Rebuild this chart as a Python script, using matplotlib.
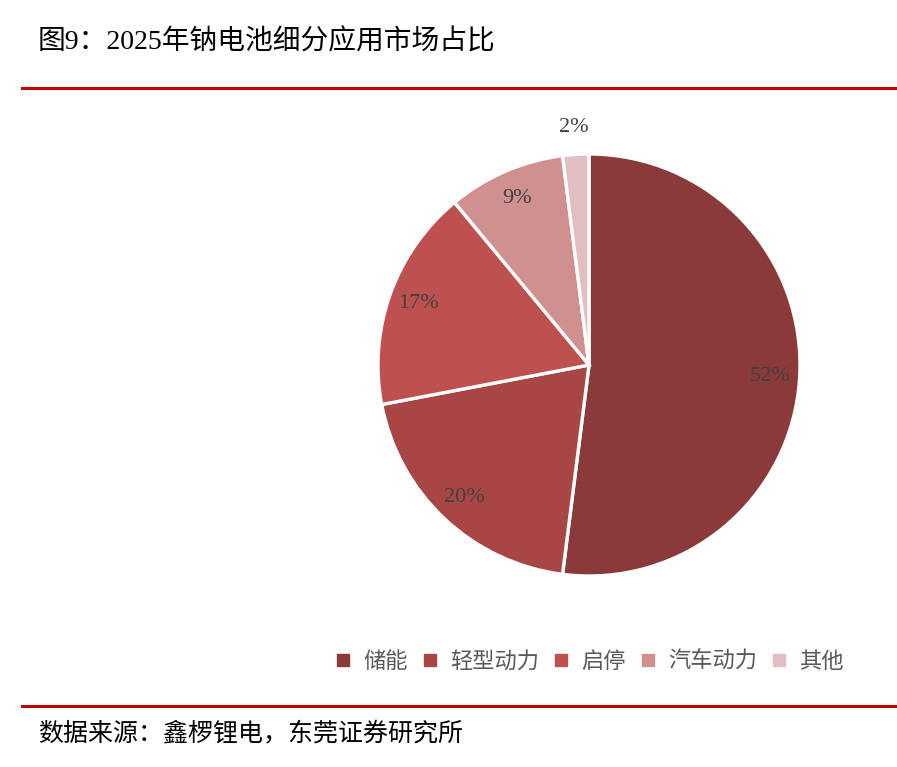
import matplotlib
matplotlib.use("Agg")
import matplotlib.pyplot as plt
from matplotlib.lines import Line2D
import numpy as np

title = "图9：2025年钠电池细分应用市场占比"
source = "数据来源：鑫椤锂电，东莞证券研究所"
categories = ["储能", "轻型动力", "启停", "汽车动力", "其他"]
values = [52, 20, 17, 9, 2]
colors = ["#8B3A3A", "#A84646", "#BE5050", "#D09090", "#E3BEC0"]

W, H = 897, 767
fig = plt.figure(figsize=(W / 100, H / 100), dpi=100)
fig.patch.set_facecolor("white")

# title
fig.text(38 / W, 1 - 42 / H, title, fontsize=20, color="black",
         family=["Liberation Serif", "Noto Sans CJK SC"], va="center", ha="left")
# red rules
fig.add_artist(Line2D([22 / W, 1], [1 - 88 / H, 1 - 88 / H], color="#C00000", lw=2.2))
fig.add_artist(Line2D([22 / W, 1], [1 - 706 / H, 1 - 706 / H], color="#C00000", lw=2.2))
# source
fig.text(38 / W, 1 - 733 / H, source, fontsize=18, color="black", weight="medium",
         family=["Noto Sans CJK SC", "DejaVu Sans"], va="center", ha="left")

# pie axes
cx, cy, r = 589, 365, 211
lim = 1.25
side = 2 * lim * r
ax = fig.add_axes([(cx - side / 2) / W, (H - cy - side / 2) / H, side / W, side / H])
wedges, texts, autotexts = ax.pie(
    values, colors=colors, startangle=90, counterclock=False,
    autopct=lambda p: f"{p:.0f}%", pctdistance=0.86,
    wedgeprops=dict(edgecolor="white", linewidth=2.4),
    textprops=dict(fontsize=16, color="#404040", family="Liberation Serif"))
ax.set_xlim(-lim, lim)
ax.set_ylim(-lim, lim)
ax.set_aspect("equal")
ax.axis("off")

# move smallest label outside
w = wedges[-1]
ang = np.deg2rad((w.theta1 + w.theta2) / 2)
autotexts[-1].set_position((1.13 * np.cos(ang), 1.13 * np.sin(ang)))

# legend
handles = [Line2D([], [], marker="s", linestyle="none", markersize=8,
                  markerfacecolor=c, markeredgecolor=c) for c in colors]
leg = fig.legend(handles, categories, loc="center", ncol=5,
                 bbox_to_anchor=(589 / W, 1 - 661 / H), frameon=False,
                 handlelength=0.8, handletextpad=0.5, columnspacing=0.6,
                 prop=dict(family=["Noto Sans CJK SC", "DejaVu Sans"], size=16))
for t in leg.get_texts():
    t.set_color("#595959")

fig.savefig("out.png", dpi=100, facecolor="white")
